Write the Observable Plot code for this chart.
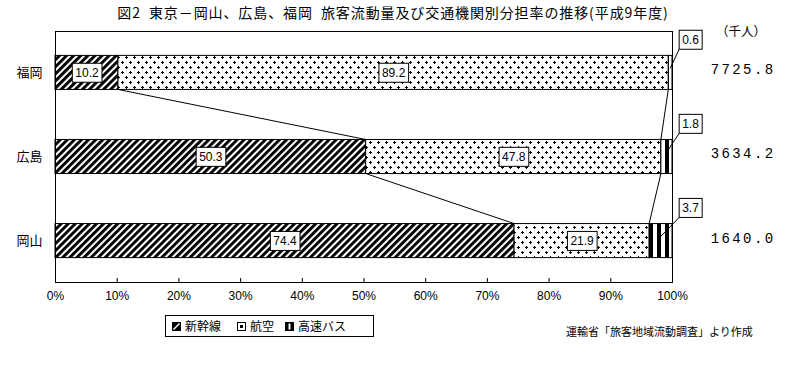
<!DOCTYPE html>
<html><head><meta charset="utf-8">
<script src="https://cdn.jsdelivr.net/npm/d3@7"></script>
<script src="https://cdn.jsdelivr.net/npm/@observablehq/plot@0.6"></script>
<style>
body{margin:0;background:#fff;}
#wrap{position:relative;width:798px;height:370px;overflow:hidden;font-family:"Liberation Sans","Noto Sans CJK JP",sans-serif;color:#000;}
#title{position:absolute;left:0;top:2px;width:786px;text-align:center;font-size:14px;letter-spacing:0.9px;line-height:20px;font-family:"Noto Sans CJK JP",sans-serif;white-space:nowrap;}
#unit{position:absolute;left:716px;top:22px;font-size:12.5px;line-height:18px;font-family:"Noto Sans CJK JP",sans-serif;}
#chart{position:absolute;left:0;top:0;}
#legend{position:absolute;left:165px;top:315px;width:207px;height:20px;border:1px solid #000;font-size:12px;line-height:20px;font-family:"Noto Sans CJK JP",sans-serif;}
#legend span.item{position:absolute;top:0;display:flex;align-items:center;height:20px;}
#legend svg{margin-right:4px;}
#caption{position:absolute;left:566px;top:323px;font-size:11px;line-height:16px;font-family:"Noto Sans CJK JP",sans-serif;white-space:nowrap;}
</style></head>
<body>
<div id="wrap">
  <div id="chart"></div>
  <div id="title">図2&nbsp;&nbsp;東京－岡山、広島、福岡&nbsp;&nbsp;旅客流動量及び交通機関別分担率の推移(平成9年度)</div>
  <div id="unit">（千人）</div>
  <div id="legend"></div>
  <div id="caption">運輸省「旅客地域流動調査」より作成</div>
</div>
<script>
const cities = ["福岡", "広島", "岡山"];
const modes = ["新幹線", "航空", "高速バス"];
const shinkansen = [10.2, 50.3, 74.4];
const air = [89.2, 47.8, 21.9];
const bus = [0.6, 1.8, 3.7];
const totals = [7725.8, 3634.2, 1640.0];
const xTicks = [0, 0.1, 0.2, 0.3, 0.4, 0.5, 0.6, 0.7, 0.8, 0.9, 1.0];
const patternOf = {"新幹線": "url(#hatch)", "航空": "url(#dots)", "高速バス": "url(#vstripe)"};

const rows = cities.flatMap((c, i) => [
  {city: c, mode: modes[0], value: shinkansen[i]},
  {city: c, mode: modes[1], value: air[i]},
  {city: c, mode: modes[2], value: bus[i]}
]);
const totalRows = cities.map((c, i) => ({city: c, total: totals[i]}));

const stackOpts = {x: "value", y: "city", z: "mode", offset: "normalize"};

const chart = Plot.plot({
  width: 798,
  height: 370,
  marginTop: 31,
  marginBottom: 88,
  marginLeft: 55,
  marginRight: 126,
  style: {fontSize: "12px", fontFamily: "Liberation Sans, Noto Sans CJK JP, sans-serif", color: "#000", background: "#fff"},
  x: {domain: [0, 1], ticks: xTicks, tickFormat: d3.format(".0%"), tickSize: -4, tickPadding: 13, label: null},
  y: {domain: cities, paddingInner: 0.595, paddingOuter: 0.29, round: false, tickSize: 0, tickPadding: 13, label: null},
  color: {type: "identity"},
  marks: [
    Plot.barX(rows, Plot.stackX({...stackOpts, fill: d => patternOf[d.mode], stroke: "#000", strokeWidth: 1})),
    Plot.text(rows, Plot.stackX({...stackOpts, text: d => d.mode === "高速バス" ? null : d.value.toFixed(1), fill: "#000", fontSize: 12})),
    Plot.text(rows, Plot.stackX2({...stackOpts, text: d => d.mode === "高速バス" ? d.value.toFixed(1) : null, fill: "#000", fontSize: 12, dx: 18, dy: -33})),
    Plot.text(totalRows, {y: "city", frameAnchor: "right", text: d => d.total.toFixed(1), dx: 103, dy: -3, textAnchor: "end", fill: "#000", fontSize: 14, fontFamily: "Liberation Mono, monospace"}),
    Plot.frame({stroke: "#000", strokeWidth: 1})
  ]
});
document.getElementById("chart").appendChild(chart);

const svg = d3.select(chart);
const defs = svg.insert("defs", ":first-child");
const hatch = defs.append("pattern").attr("id", "hatch").attr("patternUnits", "userSpaceOnUse")
  .attr("width", 5).attr("height", 5).attr("patternTransform", "rotate(45)");
hatch.append("rect").attr("width", 5).attr("height", 5).attr("fill", "#fff");
hatch.append("rect").attr("width", 2.9).attr("height", 5).attr("fill", "#000");
const dots = defs.append("pattern").attr("id", "dots").attr("patternUnits", "userSpaceOnUse")
  .attr("width", 8).attr("height", 10).attr("shape-rendering", "crispEdges");
dots.append("rect").attr("width", 8).attr("height", 10).attr("fill", "#fff");
for (const [cx, cy] of [[2, 2], [6, 7]]) {
  dots.append("rect").attr("x", cx - 1).attr("y", cy).attr("width", 3).attr("height", 1).attr("fill", "#000");
  dots.append("rect").attr("x", cx).attr("y", cy - 1).attr("width", 1).attr("height", 3).attr("fill", "#000");
}
const vs = defs.append("pattern").attr("id", "vstripe").attr("patternUnits", "userSpaceOnUse")
  .attr("width", 8).attr("height", 8).attr("shape-rendering", "crispEdges");
vs.append("rect").attr("width", 8).attr("height", 8).attr("fill", "#fff");
vs.append("rect").attr("x", 1).attr("width", 4).attr("height", 8).attr("fill", "#000");

// y tick labels
svg.selectAll('[aria-label^="y-axis"] text').attr("font-size", 13).style("font-size", "13px")
  .attr("font-family", "Noto Sans CJK JP, sans-serif");

const textGroups = svg.selectAll('g[aria-label="text"]').nodes();
const segGroup = textGroups[0], busGroup = textGroups[1], totGroup = textGroups[2];
if (totGroup) d3.select(totGroup).selectAll("text").attr("letter-spacing", "2.4");

// boxed labels
function boxLabels(group) {
  const boxes = [];
  if (!group) return boxes;
  d3.select(group).selectAll("text").each(function () {
    const b = this.getBBox();
    const h = 19, w = b.width + 6;
    const r = d3.select(this.parentNode).insert("rect", () => this)
      .attr("x", b.x - 3).attr("y", b.y + b.height / 2 - h / 2)
      .attr("width", w).attr("height", h)
      .attr("fill", "#fff").attr("stroke", "#000").attr("stroke-width", 1);
    const t = this.getAttribute("transform");
    if (t) r.attr("transform", t);
    boxes.push({x: b.x - 3, y: b.y + b.height / 2 - h / 2, w, h, el: this});
  });
  return boxes;
}
boxLabels(segGroup);
const busBoxes = boxLabels(busGroup);

// scales
const xs = chart.scale("x"), ys = chart.scale("y");
const X = typeof xs.apply === "function" ? v => xs.apply(v) : d3.scaleLinear(xs.domain, xs.range);
let Y, bw;
if (typeof ys.apply === "function") { Y = v => ys.apply(v); bw = ys.bandwidth; }
else {
  const b = d3.scaleBand(ys.domain, ys.range).paddingInner(ys.paddingInner ?? ys.padding ?? 0)
    .paddingOuter(ys.paddingOuter ?? ys.padding ?? 0).align(ys.align ?? 0.5);
  Y = v => b(v); bw = b.bandwidth();
}

const lines = svg.append("g").attr("stroke", "#000").attr("stroke-width", 1).attr("fill", "none");
const sums = cities.map((c, i) => shinkansen[i] + air[i] + bus[i]);
const cumS = cities.map((c, i) => shinkansen[i] / sums[i]);
const cumA = cities.map((c, i) => (shinkansen[i] + air[i]) / sums[i]);
for (let i = 0; i < cities.length - 1; i++) {
  for (const cum of [cumS, cumA]) {
    lines.append("line")
      .attr("x1", X(cum[i])).attr("y1", Y(cities[i]) + bw)
      .attr("x2", X(cum[i + 1])).attr("y2", Y(cities[i + 1]));
  }
}
// leader lines for bus labels
const rootInv = chart.getScreenCTM().inverse();
busBoxes.forEach((bx, i) => {
  const pt = chart.createSVGPoint();
  pt.x = bx.x; pt.y = bx.y + bx.h;
  const p = pt.matrixTransform(rootInv.multiply(bx.el.getScreenCTM()));
  const midBus = (cumA[i] + 1) / 2;
  lines.append("line")
    .attr("x1", X(midBus)).attr("y1", Y(cities[i]) + bw / 2 - 4)
    .attr("x2", p.x).attr("y2", p.y);
});

// legend
const legend = document.getElementById("legend");
const sw = {
  "新幹線": '<svg width="9" height="9"><rect x="0.5" y="0.5" width="8" height="8" fill="#000" stroke="#000"/><path d="M1.5,7.5 L7.5,1.5" stroke="#fff" stroke-width="1.4"/></svg>',
  "航空": '<svg width="9" height="9"><rect x="0.5" y="0.5" width="8" height="8" fill="#fff" stroke="#000"/><rect x="3" y="3" width="3" height="3" fill="#000"/></svg>',
  "高速バス": '<svg width="9" height="9"><rect x="0.5" y="0.5" width="8" height="8" fill="#000" stroke="#000"/><rect x="3.5" y="1.5" width="2" height="6" fill="#fff"/></svg>'
};
const lefts = [6, 71, 119];
modes.forEach((m, i) => {
  const s = document.createElement("span");
  s.className = "item";
  s.style.left = lefts[i] + "px";
  s.innerHTML = sw[m] + m;
  legend.appendChild(s);
});
</script>
</body></html>
